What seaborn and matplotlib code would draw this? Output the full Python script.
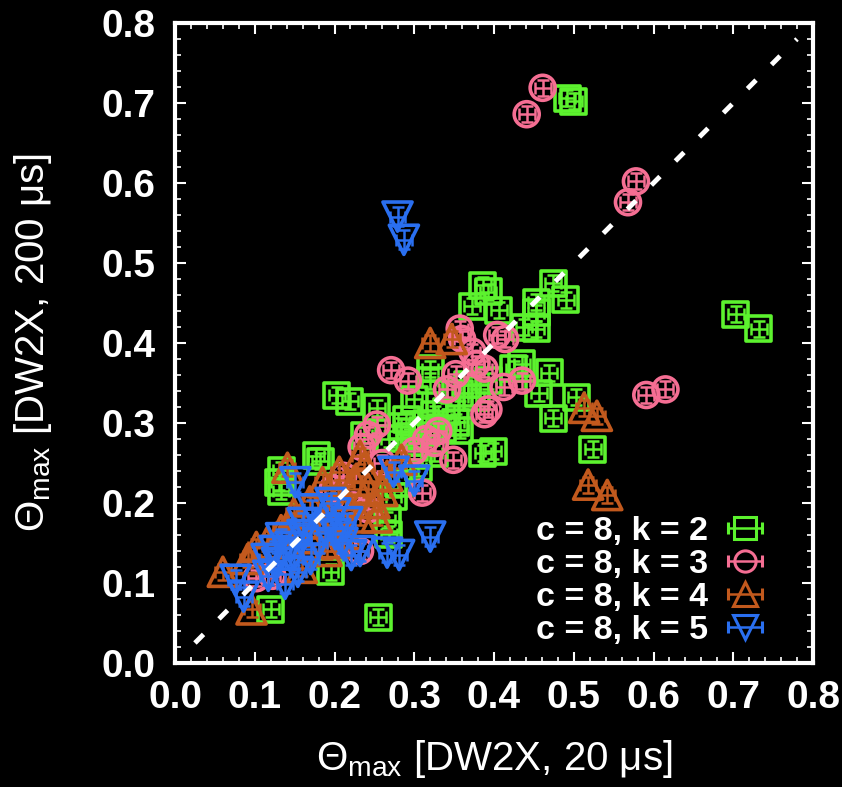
import numpy as np
import pandas as pd
import matplotlib
matplotlib.use("Agg")
import matplotlib.pyplot as plt
from matplotlib.ticker import MultipleLocator
import seaborn as sns

# ---------------- data ----------------
k2_x = [0.492, 0.500, 0.703, 0.732, 0.386, 0.393, 0.373, 0.406, 0.474, 0.490,
        0.453, 0.453, 0.438, 0.453, 0.435, 0.469, 0.456, 0.503, 0.474, 0.524,
        0.399, 0.386, 0.320, 0.320, 0.367, 0.357, 0.378, 0.393, 0.425, 0.203,
        0.219, 0.253, 0.300, 0.326, 0.352, 0.284, 0.310, 0.336, 0.357, 0.294,
        0.268, 0.177, 0.182, 0.133, 0.130, 0.133, 0.305, 0.274, 0.266, 0.268,
        0.195, 0.120, 0.255, 0.237, 0.290, 0.315, 0.340, 0.300, 0.325, 0.280]
k2_y = [0.706, 0.702, 0.436, 0.418, 0.472, 0.464, 0.446, 0.441, 0.475, 0.454,
        0.451, 0.438, 0.420, 0.418, 0.374, 0.363, 0.337, 0.332, 0.306, 0.267,
        0.265, 0.262, 0.368, 0.353, 0.348, 0.337, 0.332, 0.353, 0.368, 0.335,
        0.327, 0.319, 0.330, 0.311, 0.301, 0.296, 0.291, 0.293, 0.291, 0.283,
        0.280, 0.259, 0.252, 0.241, 0.226, 0.215, 0.244, 0.208, 0.179, 0.161,
        0.114, 0.067, 0.057, 0.285, 0.305, 0.300, 0.315, 0.270, 0.262, 0.225]

k3_x = [0.461, 0.441, 0.578, 0.568, 0.615, 0.591, 0.271, 0.292, 0.357, 0.360,
        0.404, 0.414, 0.373, 0.378, 0.388, 0.352, 0.341, 0.412, 0.435, 0.388,
        0.393, 0.253, 0.242, 0.315, 0.326, 0.349, 0.234, 0.211, 0.198, 0.310,
        0.232, 0.211, 0.102, 0.122, 0.224, 0.242, 0.330, 0.300, 0.260]
k3_y = [0.719, 0.686, 0.602, 0.576, 0.342, 0.335, 0.366, 0.353, 0.418, 0.405,
        0.410, 0.405, 0.389, 0.374, 0.368, 0.361, 0.342, 0.345, 0.353, 0.311,
        0.317, 0.298, 0.285, 0.280, 0.275, 0.254, 0.270, 0.234, 0.218, 0.213,
        0.140, 0.150, 0.106, 0.109, 0.197, 0.192, 0.290, 0.265, 0.250]

k4_x = [0.320, 0.347, 0.513, 0.529, 0.518, 0.542, 0.141, 0.185, 0.232, 0.237,
        0.284, 0.242, 0.214, 0.169, 0.195, 0.253, 0.216, 0.149, 0.133, 0.102,
        0.091, 0.060, 0.096, 0.169, 0.190, 0.159, 0.232, 0.206, 0.266, 0.225,
        0.250, 0.180, 0.205, 0.115, 0.145, 0.260, 0.200]
k4_y = [0.400, 0.405, 0.319, 0.309, 0.223, 0.210, 0.244, 0.226, 0.259, 0.244,
        0.254, 0.218, 0.202, 0.202, 0.182, 0.182, 0.161, 0.187, 0.166, 0.145,
        0.130, 0.114, 0.067, 0.156, 0.140, 0.119, 0.182, 0.239, 0.234, 0.228,
        0.200, 0.175, 0.210, 0.150, 0.170, 0.215, 0.150]

k5_x = [0.279, 0.287, 0.274, 0.300, 0.320, 0.266, 0.281, 0.151, 0.172, 0.201,
        0.216, 0.188, 0.133, 0.149, 0.128, 0.154, 0.117, 0.076, 0.086, 0.138,
        0.221, 0.115, 0.201, 0.232, 0.160, 0.180, 0.145, 0.210, 0.170, 0.125,
        0.195, 0.160]
k5_y = [0.558, 0.529, 0.239, 0.228, 0.158, 0.138, 0.135, 0.226, 0.192, 0.187,
        0.176, 0.166, 0.156, 0.135, 0.125, 0.114, 0.109, 0.104, 0.083, 0.099,
        0.135, 0.130, 0.161, 0.140, 0.175, 0.150, 0.145, 0.150, 0.130, 0.140,
        0.200, 0.160]

labels = ["c = 8, k = 2", "c = 8, k = 3", "c = 8, k = 4", "c = 8, k = 5"]
xerr_vals = [0.010, 0.010, 0.010, 0.010]
yerr_vals = [0.010, 0.010, 0.010, 0.012]
diag = [0.025, 0.78]
ticks = [0.0, 0.1, 0.2, 0.3, 0.4, 0.5, 0.6, 0.7, 0.8]

# ---------------- style ----------------
colors = ["#5cf22e", "#f56e93", "#c2591d", "#2a6ff0"]
markers = ["s", "o", "^", "v"]
sizes = [18, 18, 21, 21]

sns.set_theme(style="white")
plt.rcParams["font.family"] = ["Liberation Sans", "DejaVu Sans"]
plt.rcParams["mathtext.fontset"] = "custom"
plt.rcParams["mathtext.rm"] = "Liberation Sans"
plt.rcParams["mathtext.it"] = "Liberation Sans:italic"
plt.rcParams["mathtext.bf"] = "Liberation Sans:bold"

fig = plt.figure(figsize=(8.42, 7.87), dpi=100, facecolor="black")
ax = fig.add_axes([175 / 842, 1 - 663 / 787, 638 / 842, 640 / 787])
ax.set_facecolor("black")

series = [(k2_x, k2_y), (k3_x, k3_y), (k4_x, k4_y), (k5_x, k5_y)]
frames = []
for i, (xs, ys) in enumerate(series):
    frames.append(pd.DataFrame({"x": xs, "y": ys, "series": labels[i]}))
df = pd.concat(frames, ignore_index=True)

# diagonal
ax.plot(diag, diag, color="white", lw=3.5, ls=(0, (2.5, 4.5)), zorder=10,
        solid_capstyle="butt", dash_capstyle="butt")

handles = []
for i, lab in enumerate(labels):
    sub = df[df["series"] == lab]
    ax.errorbar(sub["x"], sub["y"], xerr=xerr_vals[i], yerr=yerr_vals[i],
                fmt="none", ecolor=colors[i], elinewidth=1.8, capsize=4,
                capthick=1.8, zorder=2 + i)
    sns.scatterplot(data=sub, x="x", y="y", ax=ax, marker=markers[i],
                    s=sizes[i] ** 2, facecolor="none", edgecolor=colors[i],
                    linewidth=2.6, zorder=2 + i, legend=False)
    h = ax.errorbar([np.nan], [np.nan], xerr=[0.01], fmt=markers[i],
                    mfc="none", mec=colors[i], mew=2.2, ms=sizes[i] * 0.85,
                    ecolor=colors[i], elinewidth=1.8, capsize=4, capthick=1.8,
                    label=lab)
    handles.append(h)

ax.set_xlim(0, 0.8)
ax.set_ylim(0, 0.8)
ax.set_xticks(ticks)
ax.set_yticks(ticks)
ax.set_xticklabels([f"{t:.1f}" for t in ticks])
ax.set_yticklabels([f"{t:.1f}" for t in ticks])
ax.xaxis.set_minor_locator(MultipleLocator(0.02))
ax.yaxis.set_minor_locator(MultipleLocator(0.02))
ax.tick_params(which="both", direction="in", colors="white", top=True,
               right=True, bottom=True, left=True)
ax.tick_params(which="major", length=8, width=1.5)
ax.tick_params(which="minor", length=4, width=1.2)
ax.tick_params(axis="x", which="major", pad=12, labelsize=28)
ax.tick_params(axis="y", which="major", pad=14, labelsize=28)
for lbl in ax.get_xticklabels() + ax.get_yticklabels():
    lbl.set_fontweight("bold")
    lbl.set_color("white")
for sp in ax.spines.values():
    sp.set_color("white")
    sp.set_linewidth(3)
    sp.set_visible(True)

ax.set_xlabel(r"$\Theta_{\rm max}$ [DW2X, 20 μs]", color="white", fontsize=29,
              labelpad=16)
ax.set_ylabel(r"$\Theta_{\rm max}$ [DW2X, 200 μs]", color="white", fontsize=29,
              labelpad=34)

leg = ax.legend(handles=handles, labels=labels, loc="lower right",
                bbox_to_anchor=(0.955, 0.0),
                frameon=False, markerfirst=False,
                prop={"weight": "bold", "size": 24.5},
                handlelength=1.3, handletextpad=0.45, labelspacing=0.06,
                borderaxespad=0.3, borderpad=0.2)
for t in leg.get_texts():
    t.set_color("white")

fig.savefig("out.png", dpi=100, facecolor="black")
